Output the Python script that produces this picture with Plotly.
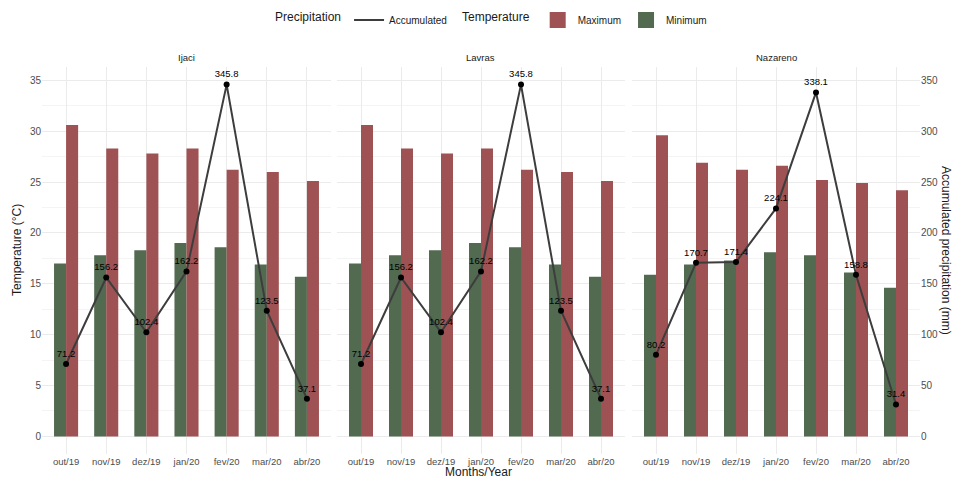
import plotly.graph_objects as go

months = ["out/19", "nov/19", "dez/19", "jan/20", "fev/20", "mar/20", "abr/20"]
sites = ["Ijaci", "Lavras", "Nazareno"]

tmax_ijaci = [30.6, 28.3, 27.8, 28.3, 26.2, 26.0, 25.1]
tmin_ijaci = [17.0, 17.8, 18.3, 19.0, 18.6, 16.9, 15.7]
prec_ijaci = [71.2, 156.2, 102.4, 162.2, 345.8, 123.5, 37.1]

tmax_lavras = [30.6, 28.3, 27.8, 28.3, 26.2, 26.0, 25.1]
tmin_lavras = [17.0, 17.8, 18.3, 19.0, 18.6, 16.9, 15.7]
prec_lavras = [71.2, 156.2, 102.4, 162.2, 345.8, 123.5, 37.1]

tmax_naz = [29.6, 26.9, 26.2, 26.6, 25.2, 24.9, 24.2]
tmin_naz = [15.9, 16.9, 17.3, 18.1, 17.8, 16.1, 14.6]
prec_naz = [80.2, 170.7, 171.4, 224.1, 338.1, 158.8, 31.4]

temp_ticks = [0, 5, 10, 15, 20, 25, 30, 35]
prec_ticks = [0, 50, 100, 150, 200, 250, 300, 350]

RED = "#9e5253"
GREEN = "#526a50"
LINE = "#3d3d3d"
GRID = "#ebebeb"
MINOR = "#f4f4f4"
TICKC = "#4d4d4d"
FONT = "Liberation Sans, Arial, sans-serif"

data = {
    "Ijaci": (tmax_ijaci, tmin_ijaci, prec_ijaci),
    "Lavras": (tmax_lavras, tmin_lavras, prec_lavras),
    "Nazareno": (tmax_naz, tmin_naz, prec_naz),
}

W, H = 956, 479
ML, MR, MT, MB = 0, 0, 67, 25
plot_h = H - MT - MB
domains = [(42 / W, 331 / W), (337 / W, 625 / W), (632 / W, 920 / W)]

t_lo, t_hi = -1.73, 36.31
p_lo, p_hi = t_lo * 10, t_hi * 10

fig = go.Figure()

for i, site in enumerate(sites):
    tmax, tmin, prec = data[site]
    xa = "x" if i == 0 else f"x{i+1}"
    ya = "y" if i == 0 else f"y{i+1}"
    yp = f"y{i+4}"
    first = i == 0
    fig.add_trace(go.Bar(x=months, y=tmin, name="Minimum", marker_color=GREEN,
                         marker_line_width=0, xaxis=xa, yaxis=ya,
                         showlegend=False, offsetgroup="min"))
    fig.add_trace(go.Bar(x=months, y=tmax, name="Maximum", marker_color=RED,
                         marker_line_width=0, xaxis=xa, yaxis=ya,
                         showlegend=False, offsetgroup="max"))
    fig.add_trace(go.Scatter(x=months, y=prec, mode="lines", name="Accumulated",
                             line=dict(color=LINE, width=2), xaxis=xa, yaxis=yp,
                             showlegend=first, legend="legend"))
    fig.add_trace(go.Scatter(x=months, y=prec, mode="markers+text",
                             text=[f"{v:.1f}" for v in prec], textposition="top center",
                             textfont=dict(size=9.5, color="#000000", family=FONT),
                             marker=dict(color="#000000", size=6),
                             xaxis=xa, yaxis=yp, showlegend=False, cliponaxis=False))

# legend keys for the temperature bars (square swatches)
fig.add_trace(go.Scatter(x=[None], y=[None], mode="markers", name="Maximum",
                         marker=dict(symbol="square", size=16, color=RED),
                         legend="legend2", showlegend=True))
fig.add_trace(go.Scatter(x=[None], y=[None], mode="markers", name="Minimum",
                         marker=dict(symbol="square", size=16, color=GREEN),
                         legend="legend2", showlegend=True))

layout = dict(
    width=W, height=H,
    margin=dict(l=ML, r=MR, t=MT, b=MB),
    paper_bgcolor="white", plot_bgcolor="white",
    barmode="group", bargap=0.4, bargroupgap=0,
    font=dict(family=FONT, color=TICKC),
    showlegend=True,
)

for i in range(3):
    xk = "xaxis" if i == 0 else f"xaxis{i+1}"
    yk = "yaxis" if i == 0 else f"yaxis{i+1}"
    pk = f"yaxis{i+4}"
    ya = "y" if i == 0 else f"y{i+1}"
    xa = "x" if i == 0 else f"x{i+1}"
    layout[xk] = dict(domain=list(domains[i]), anchor=ya, type="category",
                      categoryorder="array", categoryarray=months,
                      range=[-0.6, 6.6], showgrid=True, gridcolor=GRID, gridwidth=1,
                      zeroline=False, showline=False, ticks="",
                      tickfont=dict(size=9.5, color=TICKC), automargin=False)
    layout[yk] = dict(domain=[0, 1], anchor=xa, range=[t_lo, t_hi],
                      tickvals=temp_ticks, showgrid=True, gridcolor=GRID, gridwidth=1,
                      minor=dict(tickvals=[2.5, 7.5, 12.5, 17.5, 22.5, 27.5, 32.5],
                                 showgrid=True, gridcolor=MINOR, gridwidth=1),
                      zeroline=False, showline=False, ticks="",
                      showticklabels=(i == 0), tickfont=dict(size=10, color=TICKC),
                      automargin=False)
    layout[pk] = dict(overlaying=ya, anchor=xa, range=[p_lo, p_hi],
                      tickvals=prec_ticks, showgrid=False, zeroline=False,
                      showline=False, ticks="", side="right",
                      showticklabels=(i == 2), tickfont=dict(size=10, color=TICKC),
                      automargin=False)

leg_y = (H - MB - 20) / plot_h
layout["legend"] = dict(orientation="h", x=273 / W, xanchor="left",
                        y=leg_y, yanchor="middle",
                        title=dict(text="Precipitation", side="left",
                                   font=dict(size=12, color="#1a1a1a")),
                        font=dict(size=10, color="#1a1a1a"), itemwidth=30,
                        bgcolor="rgba(0,0,0,0)")
layout["legend2"] = dict(orientation="h", x=460 / W, xanchor="left",
                         y=leg_y, yanchor="middle",
                         title=dict(text="Temperature", side="left",
                                    font=dict(size=12, color="#1a1a1a")),
                         font=dict(size=10, color="#1a1a1a"), itemwidth=30,
                         itemsizing="trace",
                         traceorder="normal", bgcolor="rgba(0,0,0,0)")

annotations = []
for i, site in enumerate(sites):
    cx = (domains[i][0] + domains[i][1]) / 2
    annotations.append(dict(text=site, x=cx, y=(H - MB - 57) / plot_h, xref="paper",
                            yref="paper", showarrow=False, xanchor="center",
                            yanchor="middle", font=dict(size=9.5, color="#1a1a1a")))
annotations.append(dict(text="Months/Year", x=478 / W, y=(H - MB - 472) / plot_h,
                        xref="paper", yref="paper", showarrow=False, xanchor="center",
                        yanchor="middle", font=dict(size=12, color="#1a1a1a")))
annotations.append(dict(text="Temperature (°C)", x=17 / W, y=(H - MB - 250) / plot_h,
                        xref="paper", yref="paper", showarrow=False, textangle=-90,
                        xanchor="center", yanchor="middle",
                        font=dict(size=12, color="#1a1a1a")))
annotations.append(dict(text="Accumulated precipitation (mm)", x=946 / W,
                        y=(H - MB - 250) / plot_h, xref="paper", yref="paper",
                        showarrow=False, textangle=90, xanchor="center",
                        yanchor="middle", font=dict(size=12, color="#1a1a1a")))
layout["annotations"] = annotations

fig.update_layout(**layout)
fig.write_html("out.html", config={"displayModeBar": False},
               post_script="document.body.style.margin='0px';document.body.style.overflow='hidden';")
